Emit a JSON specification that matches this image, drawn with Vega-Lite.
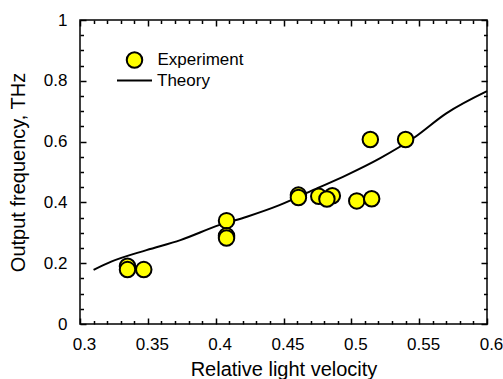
{
  "$schema": "https://vega.github.io/schema/vega-lite/v6.json",
  "width": 407,
  "height": 304,
  "autosize": {"type": "none"},
  "padding": {"left": 80, "top": 20, "right": 16, "bottom": 55},
  "background": "white",
  "config": {
    "font": "Liberation Sans",
    "view": {"stroke": "black", "strokeWidth": 1.5},
    "axis": {
      "domain": false,
      "grid": false,
      "labelFontSize": 17,
      "titleFontSize": 20,
      "titleFontWeight": "normal",
      "labelFlush": false
    },
    "legend": {"labelFontSize": 17, "labelColor": "black", "padding": 0, "title": null}
  },
  "datasets": {
    "experiment": [
      {"velocity": 0.335, "frequency": 0.19, "series": "Experiment"},
      {"velocity": 0.335, "frequency": 0.179, "series": "Experiment"},
      {"velocity": 0.347, "frequency": 0.179, "series": "Experiment"},
      {"velocity": 0.408, "frequency": 0.34, "series": "Experiment"},
      {"velocity": 0.408, "frequency": 0.29, "series": "Experiment"},
      {"velocity": 0.408, "frequency": 0.283, "series": "Experiment"},
      {"velocity": 0.461, "frequency": 0.424, "series": "Experiment"},
      {"velocity": 0.461, "frequency": 0.416, "series": "Experiment"},
      {"velocity": 0.476, "frequency": 0.42, "series": "Experiment"},
      {"velocity": 0.486, "frequency": 0.422, "series": "Experiment"},
      {"velocity": 0.482, "frequency": 0.411, "series": "Experiment"},
      {"velocity": 0.504, "frequency": 0.405, "series": "Experiment"},
      {"velocity": 0.515, "frequency": 0.412, "series": "Experiment"},
      {"velocity": 0.514, "frequency": 0.607, "series": "Experiment"},
      {"velocity": 0.54, "frequency": 0.607, "series": "Experiment"}
    ],
    "theory": [
      {"velocity": 0.31, "frequency": 0.178, "model": "Theory"},
      {"velocity": 0.323, "frequency": 0.205, "model": "Theory"},
      {"velocity": 0.349, "frequency": 0.243, "model": "Theory"},
      {"velocity": 0.374, "frequency": 0.276, "model": "Theory"},
      {"velocity": 0.403, "frequency": 0.326, "model": "Theory"},
      {"velocity": 0.423, "frequency": 0.353, "model": "Theory"},
      {"velocity": 0.447, "frequency": 0.391, "model": "Theory"},
      {"velocity": 0.472, "frequency": 0.441, "model": "Theory"},
      {"velocity": 0.4965, "frequency": 0.49, "model": "Theory"},
      {"velocity": 0.521, "frequency": 0.545, "model": "Theory"},
      {"velocity": 0.5456, "frequency": 0.611, "model": "Theory"},
      {"velocity": 0.57, "frequency": 0.693, "model": "Theory"},
      {"velocity": 0.6, "frequency": 0.766, "model": "Theory"}
    ]
  },
  "layer": [
    {
      "data": {"name": "theory"},
      "mark": {"type": "line", "strokeWidth": 2, "interpolate": "monotone"},
      "encoding": {
        "x": {
          "field": "velocity", "type": "quantitative",
          "scale": {"domain": [0.3, 0.6], "nice": false, "zero": false},
          "axis": {
            "orient": "top", "labels": false, "title": null, "tickSize": -6, "tickColor": "black", "tickWidth": 1.5,
            "values": [0.3, 0.35, 0.4, 0.45, 0.5, 0.55, 0.6]
          }
        },
        "y": {
          "field": "frequency", "type": "quantitative",
          "scale": {"domain": [0, 1], "nice": false},
          "axis": {
            "orient": "right", "labels": false, "title": null, "tickSize": -6, "tickColor": "black", "tickWidth": 1.5,
            "values": [0, 0.2, 0.4, 0.6, 0.8, 1]
          }
        },
        "stroke": {
          "field": "model", "type": "nominal",
          "scale": {"domain": ["Theory"], "range": ["black"]},
          "legend": {
            "orient": "none", "legendX": 36, "legendY": 42,
            "symbolType": "stroke", "symbolSize": 1225, "symbolStrokeWidth": 2,
            "labelOffset": 4
          }
        }
      }
    },
    {
      "data": {"name": "experiment"},
      "mark": {"type": "point", "filled": true, "stroke": "black", "strokeWidth": 2, "size": 240, "opacity": 1},
      "encoding": {
        "x": {
          "field": "velocity", "type": "quantitative",
          "axis": {
            "orient": "bottom", "title": "Relative light velocity", "titlePadding": 7, "titleColor": "black",
            "format": "~g", "labelPadding": 18, "labelOffset": 4, "labelColor": "black",
            "tickSize": -6, "tickColor": "black", "tickWidth": 1.5,
            "values": [0.3, 0.35, 0.4, 0.45, 0.5, 0.55, 0.6]
          }
        },
        "y": {
          "field": "frequency", "type": "quantitative",
          "axis": {
            "orient": "left", "title": "Output frequency, THz", "titlePadding": 15, "titleColor": "black",
            "format": "~g", "labelPadding": 19, "labelColor": "black",
            "tickSize": -6, "tickColor": "black", "tickWidth": 1.5,
            "values": [0, 0.2, 0.4, 0.6, 0.8, 1]
          }
        },
        "fill": {
          "field": "series", "type": "nominal",
          "scale": {"domain": ["Experiment"], "range": ["#ffff00"]},
          "legend": {
            "orient": "none", "legendX": 45.5, "legendY": 31,
            "symbolType": "circle", "symbolSize": 240,
            "symbolStrokeColor": "black", "symbolStrokeWidth": 2,
            "labelOffset": 14
          }
        }
      }
    },
    {
      "data": {"name": "experiment"},
      "mark": {"type": "point", "opacity": 0},
      "encoding": {
        "x": {
          "field": "velocity", "type": "quantitative",
          "axis": {
            "orient": "bottom", "labels": false, "title": null, "tickSize": -3.5, "tickColor": "black", "tickWidth": 1.5,
            "values": [0.31,0.32,0.33,0.34,0.36,0.37,0.38,0.39,0.41,0.42,0.43,0.44,0.46,0.47,0.48,0.49,0.51,0.52,0.53,0.54,0.56,0.57,0.58,0.59]
          }
        },
        "y": {
          "field": "frequency", "type": "quantitative",
          "axis": {
            "orient": "left", "labels": false, "title": null, "tickSize": -3.5, "tickColor": "black", "tickWidth": 1.5,
            "values": [0.05,0.1,0.15,0.25,0.3,0.35,0.45,0.5,0.55,0.65,0.7,0.75,0.85,0.9,0.95]
          }
        }
      }
    },
    {
      "data": {"name": "experiment"},
      "mark": {"type": "point", "opacity": 0},
      "encoding": {
        "x": {
          "field": "velocity", "type": "quantitative",
          "axis": {
            "orient": "top", "labels": false, "title": null, "tickSize": -3.5, "tickColor": "black", "tickWidth": 1.5,
            "values": [0.31,0.32,0.33,0.34,0.36,0.37,0.38,0.39,0.41,0.42,0.43,0.44,0.46,0.47,0.48,0.49,0.51,0.52,0.53,0.54,0.56,0.57,0.58,0.59]
          }
        },
        "y": {
          "field": "frequency", "type": "quantitative",
          "axis": {
            "orient": "right", "labels": false, "title": null, "tickSize": -3.5, "tickColor": "black", "tickWidth": 1.5,
            "values": [0.05,0.1,0.15,0.25,0.3,0.35,0.45,0.5,0.55,0.65,0.7,0.75,0.85,0.9,0.95]
          }
        }
      }
    }
  ],
  "resolve": {"axis": {"x": "independent", "y": "independent"}}
}
